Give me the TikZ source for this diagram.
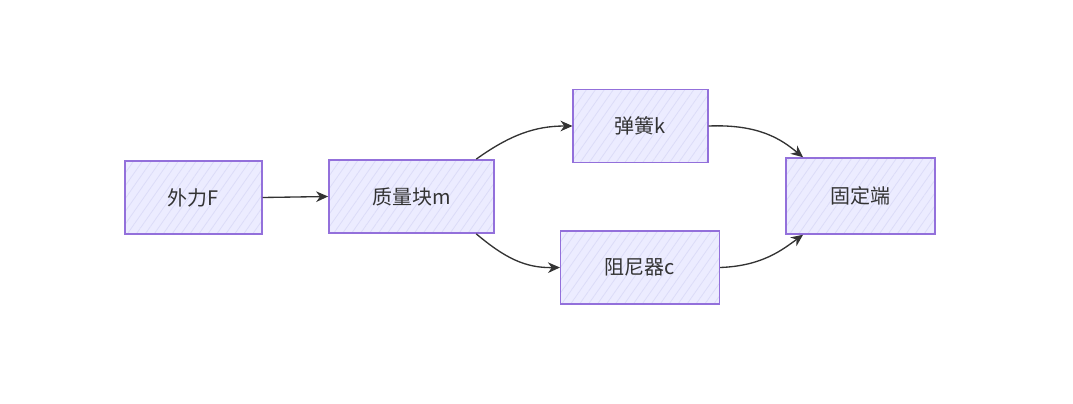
\documentclass[tikz,border=0pt]{standalone}
\usepackage{fontspec}
\newfontfamily\cjk{Noto Sans CJK SC}
\usetikzlibrary{arrows.meta,patterns.meta}

\definecolor{boxfill}{HTML}{ECECFF}
\definecolor{boxhatch}{HTML}{DCDCF8}
\definecolor{boxline}{HTML}{9370DB}
\definecolor{edgeline}{HTML}{333333}

\tikzset{
  block/.style={draw=boxline, line width=1.1pt, preaction={fill=boxfill},
    pattern={Lines[angle=55,distance=5.5pt,line width=0.6pt]}, pattern color=boxhatch,
    inner sep=0pt, minimum height=55pt, text=edgeline, font=\cjk\fontsize{15}{17}\selectfont},
  link/.style={draw=edgeline, line width=1pt, -{Stealth[length=9pt,width=8pt]}}
}

\begin{document}
\begin{tikzpicture}[x=0.75pt, y=-0.75pt]
  \useasboundingbox (0,0) rectangle (1073,403);

  % Khối
  \node[block, minimum width=103pt] (force) at (193.5,197.5) {外力F};
  \node[block, minimum width=124pt] (mass) at (411.5,196.5) {质量块m};
  \node[block, minimum width=101pt] (spring) at (640.5,126) {弹簧k};
  \node[block, minimum width=119pt] (damper) at (640,267.5) {阻尼器c};
  \node[block, minimum width=112pt, minimum height=57pt] (fixed) at (860.5,196) {固定端};

  % Mũi tên
  \draw[link] (force.east) -- (mass.west);
  \draw[link] (mass.30) .. controls (510,135) and (535,126) .. (spring.west);
  \draw[link] (mass.-30) .. controls (505,258) and (525,268) .. (damper.west);
  \draw[link] (spring.east) .. controls (760,124) and (782,140) .. (fixed.146);
  \draw[link] (damper.east) .. controls (762,266) and (782,250) .. (fixed.-146);
\end{tikzpicture}
\end{document}
